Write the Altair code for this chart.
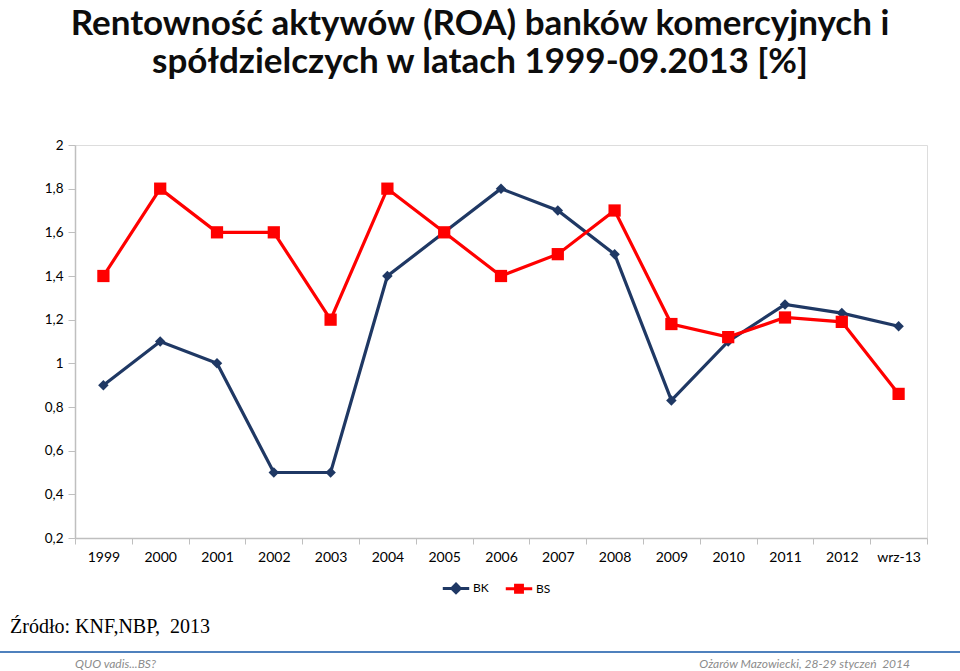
import altair as alt
import pandas as pd

categories = ["1999", "2000", "2001", "2002", "2003", "2004", "2005", "2006",
              "2007", "2008", "2009", "2010", "2011", "2012", "wrz-13"]
bk = [0.9, 1.1, 1.0, 0.5, 0.5, 1.4, 1.6, 1.8, 1.7, 1.5, 0.83, 1.1, 1.27, 1.23, 1.17]
bs = [1.4, 1.8, 1.6, 1.6, 1.2, 1.8, 1.6, 1.4, 1.5, 1.7, 1.18, 1.12, 1.21, 1.19, 0.86]
series_names = ["BK", "BS"]
y_ticks = [0.2, 0.4, 0.6, 0.8, 1.0, 1.2, 1.4, 1.6, 1.8, 2.0]

title_lines = ["Rentowność aktywów (ROA) banków komercyjnych i",
               "spółdzielczych w latach 1999-09.2013 [%]"]
source_text = ["Źródło: KNF,NBP,\u00a0 2013"]
footer_left = ["QUO vadis...BS?"]
footer_right = ["Ożarów Mazowiecki, 28-29 styczeń\u00a0 2014"]

NAVY = "#1F3864"
RED = "#FF0000"
FONT = "Lato"

rows = []
for c, v in zip(categories, bk):
    rows.append({"cat": c, "value": v, "series": "BK"})
for c, v in zip(categories, bs):
    rows.append({"cat": c, "value": v, "series": "BS"})
df = pd.DataFrame(rows)

W, H = 852, 393

x_enc = alt.X("cat:N", sort=categories, title=None,
              scale=alt.Scale(type="band", paddingInner=0, paddingOuter=0),
              axis=alt.Axis(labelAngle=0, labelFont=FONT, labelFontSize=14, labelColor="#000000",
                            domainColor="#BFBFBF", domainWidth=1.5, tickColor="#BFBFBF",
                            tickSize=6, tickBand="extent", labelPadding=6, grid=False))
y_enc = alt.Y("value:Q", title=None,
              scale=alt.Scale(domain=[0.2, 2.0], nice=False, zero=False),
              axis=alt.Axis(values=y_ticks, labelFont=FONT, labelFontSize=13.5, labelColor="#000000",
                            labelExpr="replace(format(datum.value, '.1~f'), '.', ',')",
                            domainColor="#BFBFBF", domainWidth=1.5, tickColor="#BFBFBF",
                            tickSize=7, labelPadding=5, grid=False))

base = alt.Chart(df)

def series_layers(name, color, shape, size):
    d = base.transform_filter(alt.datum.series == name)
    line = d.mark_line(color=color, strokeWidth=3.2).encode(x=x_enc, y=y_enc)
    pts = d.mark_point(color=color, filled=True, opacity=1, shape=shape, size=size).encode(x=x_enc, y=y_enc)
    return [line, pts]

legend_paths = ["M-1,0L1,0M0,-0.32L0.32,0L0,0.32L-0.32,0Z",
                "M-1,0L1,0M-0.26,-0.26L0.26,-0.26L0.26,0.26L-0.26,0.26Z"]
leg = alt.Legend(title=None, orient="none", legendX=366, legendY=428, direction="horizontal",
                 labelFont=FONT, labelFontSize=12, labelColor="#000000", symbolSize=700,
                 symbolStrokeWidth=3, columnPadding=10, labelOffset=2)
legend_layer = base.transform_filter("false").mark_point(strokeWidth=3, opacity=1).encode(
    x=x_enc, y=y_enc,
    shape=alt.Shape("series:N", scale=alt.Scale(domain=series_names, range=legend_paths), legend=leg),
    fill=alt.Fill("series:N", scale=alt.Scale(domain=series_names, range=[NAVY, RED]), legend=leg),
    stroke=alt.Stroke("series:N", scale=alt.Scale(domain=series_names, range=[NAVY, RED]), legend=leg),
)

def text_layer(lines, x, y, **kw):
    return alt.Chart(pd.DataFrame({"t": lines})).mark_text(**kw).encode(
        text="t:N", x=alt.value(x), y=alt.value(y))

t1 = text_layer([title_lines[0]], 405, -110, font=FONT, fontSize=35, fontWeight="bold",
                color="#0D0D0D", align="center", baseline="alphabetic")
t2 = text_layer([title_lines[1]], 405, -72, font=FONT, fontSize=35, fontWeight="bold",
                color="#0D0D0D", align="center", baseline="alphabetic")
src = text_layer(source_text, -65, 488, font="Liberation Serif", fontSize=20,
                 color="#000000", align="left", baseline="alphabetic")
fl = text_layer(footer_left, 0, 523, font=FONT, fontSize=12, fontStyle="italic",
                color="#8C8C8C", align="left", baseline="alphabetic")
fr = text_layer(footer_right, 835, 523, font=FONT, fontSize=12, fontStyle="italic",
                color="#8C8C8C", align="right", baseline="alphabetic")
rule = alt.Chart(pd.DataFrame({"a": [0]})).mark_rule(color="#4F81BD", strokeWidth=2).encode(
    x=alt.value(-75), x2=alt.value(885), y=alt.value(507))

layers = series_layers("BK", NAVY, "diamond", 110) + series_layers("BS", RED, "square", 150)
chart = alt.layer(*layers, legend_layer, t1, t2, src, rule, fl, fr).properties(
    width=W, height=H,
    autosize=alt.AutoSizeParams(type="none"),
    padding={"left": 75, "top": 145, "right": 33, "bottom": 133},
).configure_view(stroke=None).configure(background="white")

chart.save("out.html", embed_options={"renderer": "svg", "actions": False})
